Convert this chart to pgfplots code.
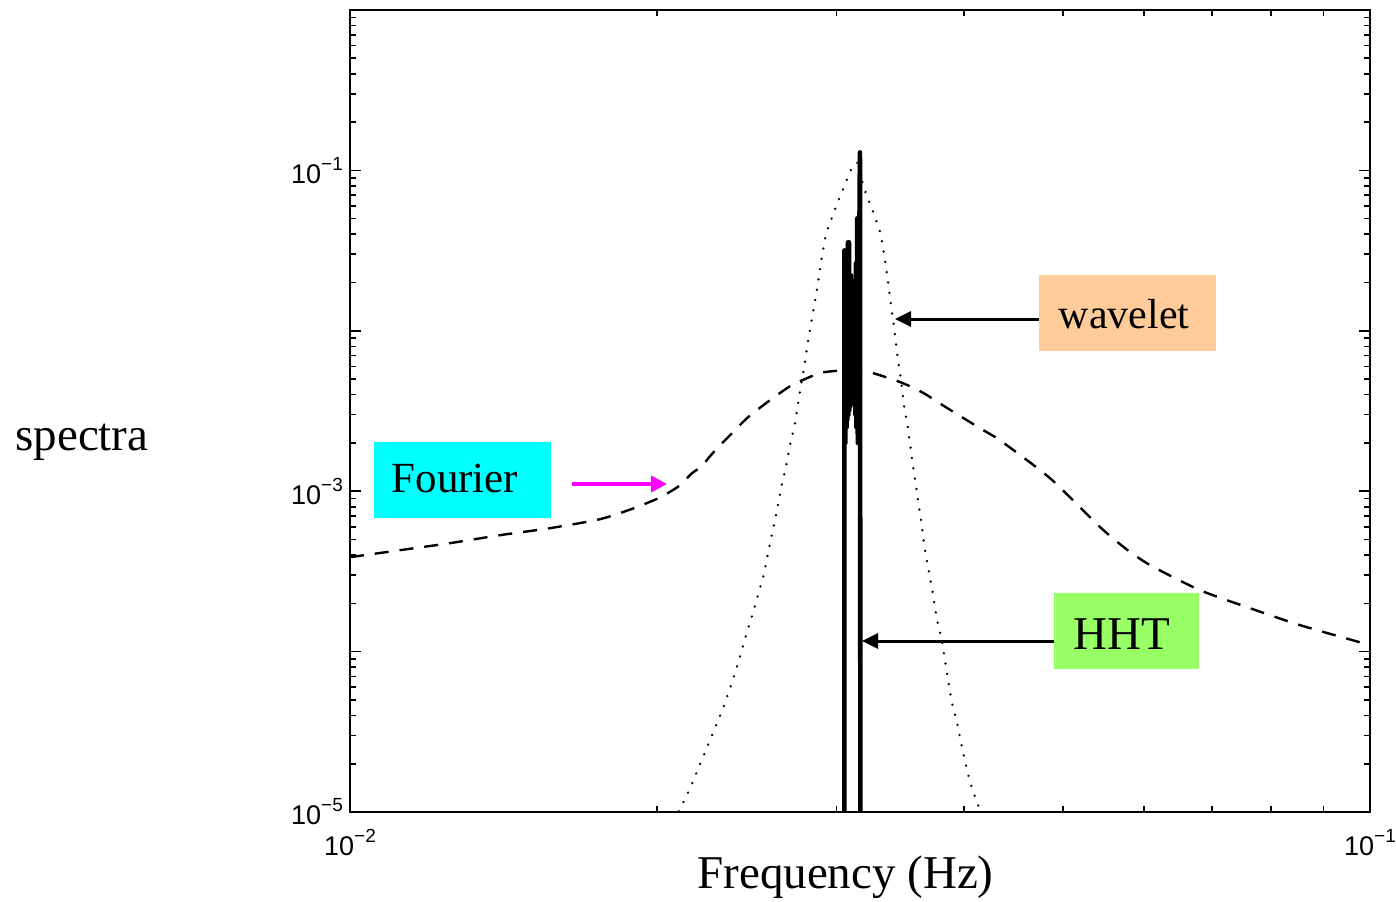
\documentclass[border=0pt]{standalone}
\usepackage{fontspec}
\setmainfont{Liberation Serif}
\newfontfamily\helv{Liberation Sans}
\usepackage{pgfplots}
\pgfplotsset{compat=1.18}
\usetikzlibrary{arrows.meta}
\definecolor{fcyan}{RGB}{0,255,255}
\definecolor{wpeach}{RGB}{255,204,153}
\definecolor{hgreen}{RGB}{153,255,102}
\definecolor{mag}{RGB}{255,0,255}

\pgfplotstableread{
x y
0.010000 3.880e-4
0.011195 4.290e-4
0.012533 4.744e-4
0.014031 5.320e-4
0.015708 5.883e-4
0.017585 6.692e-4
0.018946 7.802e-4
0.020037 9.006e-4
0.020587 9.900e-4
0.021066 1.090e-3
0.021627 1.289e-3
0.022122 1.432e-3
0.022541 1.652e-3
0.023056 1.935e-3
0.023583 2.233e-3
0.024576 2.903e-3
0.025808 3.690e-3
0.027104 4.575e-3
0.028781 5.412e-3
0.029665 5.593e-3
0.030916 5.674e-3
0.032467 5.474e-3
0.034743 4.750e-3
0.036480 4.100e-3
0.038459 3.318e-3
0.041618 2.434e-3
0.043375 2.078e-3
0.048569 1.205e-3
0.054386 5.968e-4
0.057540 4.415e-4
0.060884 3.459e-4
0.068129 2.416e-4
0.076270 1.866e-4
0.085371 1.463e-4
0.100000 1.098e-4
}\fourier

\pgfplotstableread{
x y
0.020573 7.726e-6
0.021113 1.0743e-5
0.021561 1.411e-5
0.021939 1.853e-5
0.022324 2.410e-5
0.022731 3.197e-5
0.023145 4.216e-5
0.023514 5.593e-5
0.023834 7.273e-5
0.024159 9.648e-5
0.024466 1.285e-4
0.024799 1.688e-4
0.025119 2.250e-4
0.025444 2.997e-4
0.025791 4.608e-4
0.026160 7.087e-4
0.026517 1.1056e-3
0.026776 1.452e-3
0.027000 1.935e-3
0.027288 2.578e-3
0.027492 3.484e-3
0.027679 4.575e-3
0.027911 6.185e-3
0.028101 8.358e-3
0.028311 1.098e-2
0.028548 1.484e-2
0.028761 1.977e-2
0.028957 2.672e-2
0.029174 3.524e-2
0.029306 4.109e-2
0.029552 4.695e-2
0.029800 5.419e-2
0.030043 6.231e-2
0.030315 7.191e-2
0.030569 8.180e-2
0.030825 9.307e-2
0.031105 0.10744
0.031479 0.11216
0.031858 8.029e-2
0.032103 7.007e-2
0.032394 6.081e-2
0.032659 5.274e-2
0.032933 4.543e-2
0.033157 3.993e-2
0.033405 2.954e-2
0.033632 2.227e-2
0.033868 1.549e-2
0.034145 1.067e-2
0.034431 6.761e-3
0.034665 5.132e-3
0.034948 3.338e-3
0.035241 2.484e-3
0.035561 1.610e-3
0.035908 1.050e-3
0.036290 6.644e-4
0.036595 4.415e-4
0.036927 3.242e-4
0.037228 2.416e-4
0.037650 1.554e-4
0.038052 1.179e-4
0.038510 7.169e-5
0.038921 4.797e-5
0.039362 3.637e-5
0.039899 2.382e-5
0.040351 1.725e-5
0.040745 1.391e-5
0.041180 1.154e-5
0.042128 7.726e-6
}\wavelet

\pgfplotstableread{
x y
0.030534 5e-6
0.030534 3.173e-2
0.030600 2.000e-3
0.030638 2.954e-2
0.030680 2.500e-3
0.030707 2.954e-2
0.030740 2.800e-3
0.030777 3.559e-2
0.030810 3.000e-3
0.030846 3.559e-2
0.030880 3.200e-3
0.030916 2.217e-2
0.030950 3.400e-3
0.030986 2.217e-2
0.031020 3.500e-3
0.031056 1.700e-2
0.031090 3.700e-3
0.031126 1.549e-2
0.031160 3.700e-3
0.031197 1.700e-2
0.031230 3.500e-3
0.031267 1.920e-2
0.031300 3.000e-3
0.031338 2.634e-2
0.031373 2.500e-3
0.031430 5.023e-2
0.031470 2.000e-3
0.031501 5.023e-2
0.031551 1.549e-2
0.031623 0.12945
0.031658 5e-6
}\hht

\begin{document}
\begin{tikzpicture}
\begin{axis}[
  at={(0,0)}, anchor=south west,
  scale only axis, width=510pt, height=401pt,
  xmode=log, ymode=log,
  xmin=0.01, xmax=0.1, ymin=1e-5, ymax=1,
  axis line style={line width=0.9pt},
  every tick/.style={black, line width=0.8pt},
  major tick length=5.5pt, minor tick length=3pt,
  tick align=inside,
  xticklabel style={yshift=-5pt},
  xticklabel={\pgfmathtruncatemacro{\e}{round(\tick/ln(10))}{\fontsize{13.5}{13.5}\selectfont\helv 10\raisebox{6.5pt}{\fontsize{9.5}{9.5}\selectfont −\the\numexpr-\e\relax}}},
  yticklabel={\pgfmathtruncatemacro{\e}{round(\tick/ln(10))}\ifodd\e\relax{\fontsize{13.5}{13.5}\selectfont\helv 10\raisebox{6.5pt}{\fontsize{9.5}{9.5}\selectfont −\the\numexpr-\e\relax}}\fi},
]
\addplot[black, line width=1.2pt, dash pattern=on 7pt off 5.5pt, smooth, tension=0.4] table[x=x,y=y] {\fourier};
\addplot[black, line width=1.3pt, line cap=round, dash pattern=on 0.01pt off 5.2pt] table[x=x,y=y] {\wavelet};
\addplot[black, line width=2.3pt, line join=round] table[x=x,y=y] {\hht};
\end{axis}
% annotations
\fill[fcyan] (12pt,147pt) rectangle (100.5pt,185pt);
\node[anchor=base, inner sep=0pt, font=\fontsize{21.5}{21.5}\selectfont] at (52.5pt,160pt) {Fourier};
\draw[mag, line width=2pt, -{Triangle[length=8pt,width=8pt]}] (111pt,164pt) -- (158.5pt,164pt);
\fill[wpeach] (344.5pt,230.5pt) rectangle (433pt,268.5pt);
\node[anchor=base, inner sep=0pt, font=\fontsize{21}{21}\selectfont] at (387pt,242pt) {wavelet};
\draw[black, line width=1.5pt, -{Triangle[length=8pt,width=7.5pt]}] (344.5pt,246.5pt) -- (272.5pt,246.5pt);
\fill[hgreen] (352pt,71.5pt) rectangle (424.5pt,109.5pt);
\node[anchor=base, inner sep=0pt, font=\fontsize{23.5}{23.5}\selectfont] at (385.75pt,81.5pt) {HHT};
\draw[black, line width=1.5pt, -{Triangle[length=8pt,width=7.5pt]}] (352pt,85.5pt) -- (256pt,85.5pt);
\node[anchor=base west, inner sep=0pt, font=\fontsize{23.5}{23.5}\selectfont] at (-167.5pt,181pt) {spectra};
\node[anchor=base west, inner sep=0pt, font=\fontsize{23.5}{23.5}\selectfont] at (173.5pt,-38pt) {Frequency (Hz)};
\pgfresetboundingbox
\path[use as bounding box] (-175pt,-44.5pt) rectangle (523pt,406pt);
\end{tikzpicture}
\end{document}
